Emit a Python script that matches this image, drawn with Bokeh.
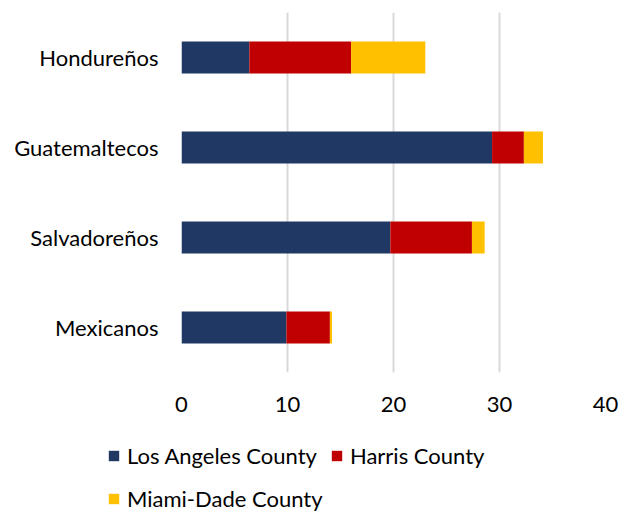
from bokeh.plotting import figure
from bokeh.models import ColumnDataSource, FactorRange, Range1d, Legend, LegendItem
from bokeh.embed import file_html
from bokeh.resources import INLINE

# Share of each origin group living in three counties (%)
groups = ["Hondureños", "Guatemaltecos", "Salvadoreños", "Mexicanos"]
los_angeles = [6.4, 29.3, 19.7, 9.9]
harris = [9.6, 3.0, 7.7, 4.1]
miami_dade = [7.0, 1.8, 1.2, 0.2]

series_names = ["Los Angeles County", "Harris County", "Miami-Dade County"]
series_colors = ["#1F3864", "#C00000", "#FFC000"]
x_ticks = [0, 10, 20, 30, 40]

source = ColumnDataSource(dict(group=groups, la=los_angeles, harris=harris, miami=miami_dade))
stack_cols = ["la", "harris", "miami"]

FONT = "Lato"
FONT_SIZE = "22px"

p = figure(
    y_range=FactorRange(factors=groups[::-1], range_padding=0),
    x_range=Range1d(0, 40),
    width=620, height=440,
    min_border_left=181, min_border_right=15,
    min_border_top=12, min_border_bottom=68,
    output_backend="svg", toolbar_location=None,
)

bars = p.hbar_stack(stack_cols, y="group", height=0.355,
                    color=series_colors, line_color=None, source=source)

p.outline_line_color = None
p.ygrid.grid_line_color = None
p.xgrid.grid_line_color = "#D9D9D9"
p.xgrid.grid_line_width = 2
p.xaxis.ticker = x_ticks

for ax in (p.xaxis[0], p.yaxis[0]):
    ax.axis_line_color = None
    ax.major_tick_line_color = None
    ax.minor_tick_line_color = None
    ax.major_label_text_font = FONT
    ax.major_label_text_font_size = FONT_SIZE
    ax.major_label_text_color = "#000000"

p.yaxis.major_label_standoff = 17
p.xaxis.major_label_standoff = 18

# Legend strip below the chart: same stacked series, hidden, used only as legend swatches
key = figure(
    y_range=FactorRange(factors=groups[::-1], range_padding=0),
    x_range=Range1d(0, 40),
    width=620, height=72,
    min_border_left=0, min_border_right=0, min_border_top=0, min_border_bottom=0,
    x_axis_location=None, y_axis_location=None,
    output_backend="svg", toolbar_location=None,
)
key.outline_line_color = None
key.grid.grid_line_color = None
swatches = key.hbar_stack(stack_cols, y="group", height=0.355,
                          color=series_colors, line_color=None, source=source)
for r in swatches:
    r.visible = False


def make_legend(items, loc):
    return Legend(items=items, location=loc, orientation="horizontal",
                  label_text_font=FONT, label_text_font_size=FONT_SIZE,
                  label_text_color="#000000",
                  glyph_width=13, glyph_height=13, label_standoff=7,
                  spacing=13, padding=0, margin=0,
                  border_line_color=None, background_fill_alpha=0)


row1 = make_legend([LegendItem(label=series_names[0], renderers=[swatches[0]]),
                    LegendItem(label=series_names[1], renderers=[swatches[1]])], (107, 43))
row2 = make_legend([LegendItem(label=series_names[2], renderers=[swatches[2]])], (107, 0))
key.add_layout(row1)
key.add_layout(row2)

open("out.html", "w").write(file_html([p, key], INLINE))
